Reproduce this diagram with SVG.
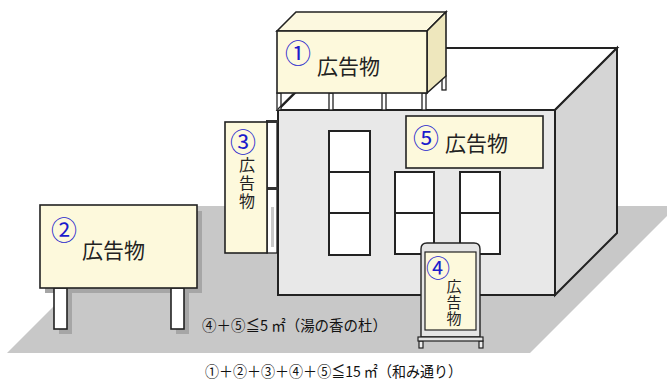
<svg xmlns="http://www.w3.org/2000/svg" width="667" height="383" viewBox="0 0 667 383">
  <style>
    .ln { stroke: #222; stroke-width: 2; stroke-linejoin: miter; }
    .sg { fill: #fdf9dc; stroke: #222; stroke-width: 1.6; }
    .win { fill: #fff; stroke: #222; stroke-width: 2; }
    .num { font-family: "Noto Sans CJK JP", "DejaVu Sans", sans-serif; fill: #1c1ccc; font-size: 26px; dominant-baseline: central; text-anchor: middle; }
    .jp { font-family: "Noto Sans CJK JP", sans-serif; fill: #222; dominant-baseline: central; }
    .big { font-size: 21px; }
    .tate { font-family: "Noto Sans CJK JP", sans-serif; fill: #222; writing-mode: vertical-rl; text-orientation: upright; }
    .note { font-size: 15px; fill: #111; }
  </style>

  <rect width="667" height="383" fill="#fff"/>

  <!-- ground plane -->
  <polygon points="7,353 154,206 667,206 667,216 530,353" fill="#c8c8c8"/>

  <!-- building -->
  <g id="building">
    <polygon points="278,110 340,48 617,48 555,110" fill="#fff" class="ln"/>
    <polygon points="555,110 617,48 617,233 555,295" fill="#d5d5d5" class="ln"/>
    <rect x="278" y="110" width="277" height="185" fill="#e8e8e8" class="ln"/>
    <!-- windows -->
    <rect x="329" y="131" width="41" height="124" class="win"/>
    <line x1="329" y1="172" x2="370" y2="172" class="ln"/>
    <line x1="329" y1="213" x2="370" y2="213" class="ln"/>
    <rect x="395" y="172" width="39" height="82" class="win"/>
    <line x1="395" y1="213" x2="434" y2="213" class="ln"/>
    <rect x="460" y="172" width="40" height="82" class="win"/>
    <line x1="460" y1="213" x2="500" y2="213" class="ln"/>
  </g>

  <!-- rooftop sign 1 -->
  <g id="sign1">
    <g fill="#fff" stroke="#222" stroke-width="1.3">
      <rect x="277" y="93" width="4" height="17"/>
      <rect x="329" y="93" width="4" height="17"/>
      <rect x="382" y="93" width="4" height="17"/>
      <rect x="422" y="93" width="4" height="17"/>
      <rect x="442" y="76" width="4" height="14"/>
    </g>
    <line x1="278" y1="109" x2="293" y2="94" stroke="#222" stroke-width="1.3"/>
    <polygon points="277,31 296,12 446,12 427,31" fill="#fcf8df" stroke="#222" stroke-width="1.6"/>
    <polygon points="427,31 446,12 446,76 427,93" fill="#eee7bd" stroke="#222" stroke-width="1.6"/>
    <rect x="277" y="31" width="150" height="62" class="sg"/>
    <text class="num" x="298" y="51">①</text>
    <text class="jp big" x="317" y="65">広告物</text>
  </g>

  <!-- wall-mounted sign 3 -->
  <g id="sign3">
    <rect x="267" y="121" width="10" height="132" fill="#fff" stroke="#222" stroke-width="1.3"/>
    <rect x="271" y="207" width="3" height="40" fill="#c8c8c8"/>
    <rect x="266" y="120" width="12" height="3" fill="#333"/>
    <rect x="266" y="187" width="12" height="3" fill="#333"/>
    <rect x="225" y="122" width="42" height="131" class="sg"/>
    <text class="num" x="243" y="140">③</text>
    <text class="tate" x="247" y="157" style="font-size:16px; letter-spacing:2px">広告物</text>
  </g>

  <!-- wall sign 5 -->
  <g id="sign5">
    <rect x="406" y="116" width="137" height="52" class="sg"/>
    <text class="num" x="426" y="136">⑤</text>
    <text class="jp big" x="445" y="142">広告物</text>
  </g>

  <!-- standing sign 4 -->
  <g id="sign4">
    <rect x="419" y="341" width="4" height="7" fill="#eee" stroke="#222" stroke-width="1.2"/>
    <rect x="479" y="341" width="4" height="7" fill="#eee" stroke="#222" stroke-width="1.2"/>
    <path d="M421,337 V249 Q421,243 427,243 H474 Q480,243 480,249 V337 Z" fill="#e4e4e4" stroke="#222" stroke-width="1.4"/>
    <rect x="418" y="337" width="65" height="4" fill="#e4e4e4" stroke="#222" stroke-width="1.2"/>
    <rect x="425" y="252" width="51" height="78" fill="#fdf9dc" stroke="#222" stroke-width="1.2"/>
    <text class="num" x="438" y="266" style="font-size:24px">④</text>
    <text class="tate" x="454" y="279" style="font-size:15px; letter-spacing:1px">広告物</text>
  </g>

  <!-- pole sign 2 -->
  <g id="sign2">
    <g fill="#a6a6a6">
      <rect x="45" y="211" width="157" height="82"/>
      <rect x="59" y="293" width="13" height="41"/>
      <rect x="176" y="293" width="13" height="41"/>
    </g>
    <rect x="54" y="288" width="13" height="41" fill="#fff" stroke="#222" stroke-width="1.6"/>
    <rect x="171" y="288" width="13" height="41" fill="#fff" stroke="#222" stroke-width="1.6"/>
    <rect x="40" y="205" width="157" height="83" class="sg"/>
    <text class="num" x="64" y="228">②</text>
    <text class="jp big" x="82" y="249">広告物</text>
  </g>

  <!-- area limits -->
  <g id="notes">
    <text class="jp note" x="202" y="324" textLength="185" lengthAdjust="spacingAndGlyphs">④＋⑤≦5 ㎡（湯の香の杜）</text>
    <text class="jp note" x="205" y="370" textLength="257" lengthAdjust="spacingAndGlyphs">①＋②＋③＋④＋⑤≦15 ㎡（和み通り）</text>
  </g>
</svg>
